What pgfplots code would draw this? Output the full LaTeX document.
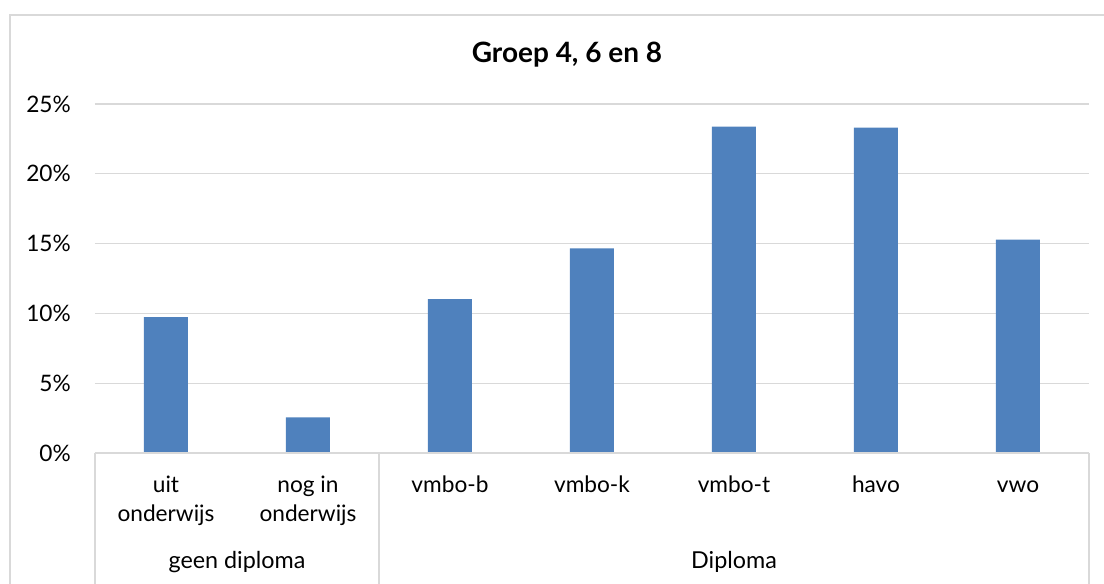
\documentclass[border=0pt]{standalone}
\usepackage{pgfplots}
\pgfplotsset{compat=1.18}
\usepackage{fontspec}
\setmainfont{Lato}
\definecolor{barblue}{HTML}{4F81BD}
\definecolor{gridgrey}{HTML}{D9D9D9}
\begin{document}
\begin{tikzpicture}[x=0.75pt,y=0.75pt]
\path[use as bounding box] (0,0) rectangle (1104,584);
\draw[gridgrey, line width=1.2pt] (10,-20) rectangle (1130,569);
\node[font=\fontsize{21}{25}\selectfont\bfseries] at (567,529) {Groep 4, 6 en 8};
\begin{axis}[
  at={(71.25pt,98.25pt)}, anchor=south west,
  scale only axis, width=745.5pt, height=261.75pt,
  xmin=-0.5, xmax=6.5, ymin=0, ymax=25,
  ytick={0,5,10,15,20,25},
  yticklabel={\pgfmathprintnumber{\tick}\%},
  /pgf/number format/assume math mode=true,
  ymajorgrids, grid style={gridgrey, line width=0.9pt},
  axis line style={draw=none},
  axis x line*=bottom,
  major tick length=0pt,
  tick style={draw=none},
  xtick=data,
  xticklabels={\vphantom{b}uit\\onderwijs, \vphantom{b}nog in\\onderwijs, vmbo-b, vmbo-k, vmbo-t, \vphantom{b}havo, \vphantom{b}vwo},
  xticklabel style={align=center, font=\fontsize{17}{21.75}\selectfont, inner sep=0pt, anchor=north, yshift=-17pt},
  yticklabel style={font=\fontsize{17}{20}\selectfont, inner sep=0pt, anchor=east, xshift=-18pt},
  clip=false,
]
\addplot[ybar, bar width=33pt, fill=barblue, draw=none] coordinates {
(0,9.74) (1,2.55) (2,11.02) (3,14.66) (4,23.38) (5,23.30) (6,15.28)};
\draw[gridgrey, line width=1.2pt] (axis cs:-0.5,0) -- (axis cs:6.5,0);
\draw[gridgrey, line width=1.2pt] (axis cs:-0.5,0) -- (axis cs:-0.5,-10);
\draw[gridgrey, line width=1.2pt] (axis cs:1.5,0) -- (axis cs:1.5,-10);
\draw[gridgrey, line width=1.2pt] (axis cs:6.5,0) -- (axis cs:6.5,-10);
\node[font=\fontsize{17.5}{20}\selectfont] at (axis cs:0.5,-7.81) {geen diploma};
\node[font=\fontsize{17.5}{20}\selectfont] at (axis cs:4,-7.81) {Diploma};
\end{axis}
\end{tikzpicture}
\end{document}
